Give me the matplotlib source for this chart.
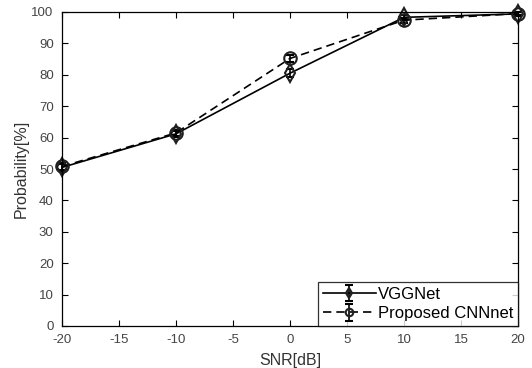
import matplotlib
matplotlib.use("Agg")
import matplotlib.pyplot as plt

plt.rcParams['font.family'] = ['Liberation Sans', 'DejaVu Sans']
plt.rcParams['axes.unicode_minus'] = False

snr = [-20, -10, 0, 10, 20]
vgg = [50.5, 61.2, 80.5, 98.3, 99.4]
vgg_err = [1.2, 1.0, 1.2, 0.8, 0.6]
cnn = [50.8, 61.5, 85.2, 97.4, 99.5]
cnn_err = [1.0, 0.9, 1.0, 0.8, 0.5]

xticks = [-20, -15, -10, -5, 0, 5, 10, 15, 20]
yticks = [0, 10, 20, 30, 40, 50, 60, 70, 80, 90, 100]

fig = plt.figure(figsize=(5.32, 3.68), dpi=100)
ax = fig.add_axes([62/532, 1-326/368, (518-62)/532, (326-12)/368])

ax.errorbar(snr, vgg, yerr=vgg_err, color='black', lw=1.2, ls='-',
            marker='d', ms=9, mfc='none', mec='#202020', mew=1.5,
            capsize=3, clip_on=False, label='VGGNet')
ax.errorbar(snr, cnn, yerr=cnn_err, color='black', lw=1.2, ls='--',
            dashes=(5, 3), marker='o', ms=9, mfc='none', mec='#202020',
            mew=1.5, capsize=3, clip_on=False, label='Proposed CNNnet')

ax.set_xlim(-20, 20)
ax.set_ylim(0, 100)
ax.set_xticks(xticks)
ax.set_yticks(yticks)
ax.tick_params(direction='in', top=True, right=True, labelsize=9.5,
               labelcolor='#444444', color='black', length=4, pad=6)
for s in ax.spines.values():
    s.set_color('black')
    s.set_linewidth(0.9)
ax.set_xlabel('SNR[dB]', fontsize=11.5, color='#333333', labelpad=5)
ax.set_ylabel('Probability[%]', fontsize=11.5, color='#333333', labelpad=2)

leg = ax.legend(loc='lower right', fontsize=12, frameon=True, fancybox=False,
                borderaxespad=0, handlelength=3.2, handletextpad=0.1,
                labelspacing=0.25, borderpad=0.3, markerscale=0.6)
leg.get_frame().set_edgecolor('black')
leg.get_frame().set_linewidth(0.9)

fig.savefig('out.png', dpi=100)
